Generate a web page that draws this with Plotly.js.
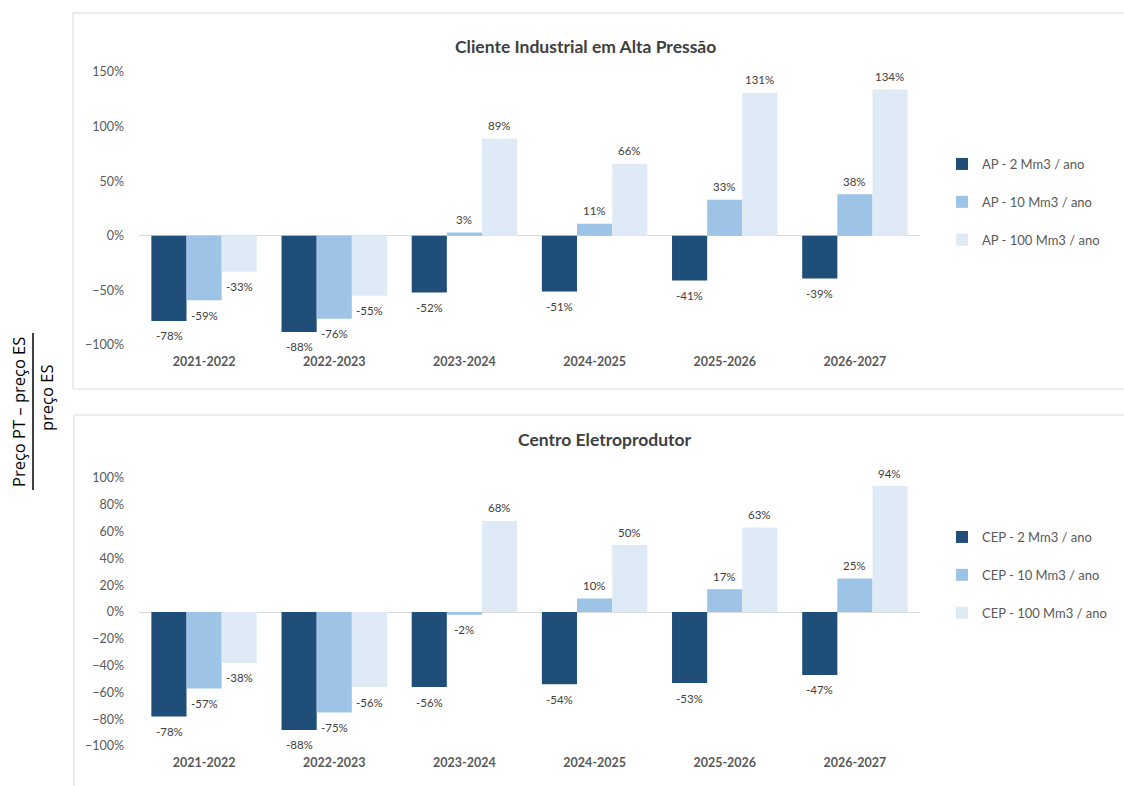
<!DOCTYPE html>
<html>
<head>
<meta charset="utf-8">
<script src="https://cdn.plot.ly/plotly-3.0.1.min.js"></script>
<style>html,body{margin:0;padding:0;background:#fff;}#chart{width:1124px;height:786px;}</style>
</head>
<body>
<div id="chart"></div>
<script>
const categories = ["2021-2022","2022-2023","2023-2024","2024-2025","2025-2026","2026-2027"];
const ap2   = [-0.78,-0.88,-0.52,-0.51,-0.41,-0.39];
const ap10  = [-0.59,-0.76, 0.03, 0.11, 0.33, 0.38];
const ap100 = [-0.33,-0.55, 0.89, 0.66, 1.31, 1.34];
const cep2   = [-0.78,-0.88,-0.56,-0.54,-0.53,-0.47];
const cep10  = [-0.57,-0.75,-0.02, 0.10, 0.17, 0.25];
const cep100 = [-0.38,-0.56, 0.68, 0.50, 0.63, 0.94];
const namesTop = ["AP - 2 Mm3 / ano","AP - 10 Mm3 / ano","AP - 100 Mm3 / ano"];
const namesBot = ["CEP - 2 Mm3 / ano","CEP - 10 Mm3 / ano","CEP - 100 Mm3 / ano"];
const colors = ["#1F4E79","#9DC3E6","#DEEBF7"];

const W = 1124, H = 786;
const px = x => x / W;
const py = y => 1 - y / H;
const FONT = "Lato, 'Open Sans', sans-serif";

function bar(y, name, color, xa, ya, leg, grp) {
  return {
    type: "bar", x: categories, y: y, name: name,
    marker: {color: color, line: {width: 0}},
    xaxis: xa, yaxis: ya, legend: leg, legendgroup: grp,
    hoverinfo: "x+y+name"
  };
}

const data = [
  bar(ap2, namesTop[0], colors[0], "x", "y", "legend", "a1"),
  bar(ap10, namesTop[1], colors[1], "x", "y", "legend", "a2"),
  bar(ap100, namesTop[2], colors[2], "x", "y", "legend", "a3"),
  bar(cep2, namesBot[0], colors[0], "x2", "y2", "legend2", "b1"),
  bar(cep10, namesBot[1], colors[1], "x2", "y2", "legend2", "b2"),
  bar(cep100, namesBot[2], colors[2], "x2", "y2", "legend2", "b3")
];

// data labels as annotations positioned through axis scales
const labelAnn = [];
function addLabels(series, xa, ya) {
  series.forEach((s, i) => {
    s.forEach((v, j) => {
      labelAnn.push({
        xref: xa, yref: ya, x: categories[j], y: v,
        text: Math.round(v * 100) + "%", showarrow: false,
        xshift: (i - 1) * 35, yshift: v >= 0 ? 13 : -15,
        xanchor: "center", yanchor: "middle",
        font: {size: 11.5, color: "#404040", family: FONT}
      });
    });
  });
}
addLabels([ap2, ap10, ap100], "x", "y");
addLabels([cep2, cep10, cep100], "x2", "y2");

const xCommon = {
  type: "category", domain: [px(139), px(920)],
  showgrid: false, showline: false, ticks: "", zeroline: false,
  tickfont: {size: 12.5, color: "#595959", family: FONT, weight: "bold"},
  ticklabelstandoff: 7, fixedrange: true
};
const yCommon = {
  tickformat: ".0%", showgrid: false, showline: false, ticks: "",
  zeroline: true, zerolinecolor: "#D9D9D9", zerolinewidth: 1,
  tickfont: {size: 12.5, color: "#595959", family: FONT},
  ticklabelstandoff: 14, fixedrange: true
};

const legCommon = {
  font: {size: 13, color: "#595959", family: FONT},
  bgcolor: "rgba(0,0,0,0)", tracegroupgap: 18, traceorder: "grouped",
  xanchor: "left", yanchor: "top", itemwidth: 30
};

const layout = {
  width: W, height: H,
  margin: {l: 0, r: 0, t: 0, b: 0},
  paper_bgcolor: "#ffffff", plot_bgcolor: "rgba(0,0,0,0)",
  font: {family: FONT, color: "#595959"},
  barmode: "group", bargap: 0.19, bargroupgap: 0,
  showlegend: true,
  xaxis: Object.assign({}, xCommon, {anchor: "y"}),
  yaxis: Object.assign({}, yCommon, {domain: [py(345), py(72)], range: [-1, 1.5], dtick: 0.5, anchor: "x"}),
  xaxis2: Object.assign({}, xCommon, {anchor: "y2"}),
  yaxis2: Object.assign({}, yCommon, {domain: [py(746), py(478)], range: [-1, 1], dtick: 0.2, anchor: "x2"}),
  legend: Object.assign({}, legCommon, {x: px(942), y: py(149)}),
  legend2: Object.assign({}, legCommon, {x: px(942), y: py(522)}),
  shapes: [
    {type: "rect", xref: "paper", yref: "paper", x0: px(73), x1: 1.05, y0: py(389), y1: py(13),
     line: {color: "#D9D9D9", width: 1}, fillcolor: "rgba(0,0,0,0)", layer: "below"},
    {type: "rect", xref: "paper", yref: "paper", x0: px(74), x1: 1.05, y0: -0.05, y1: py(415),
     line: {color: "#D9D9D9", width: 1}, fillcolor: "rgba(0,0,0,0)", layer: "below"},
    {type: "line", xref: "paper", yref: "paper", x0: px(33), x1: px(33), y0: py(490), y1: py(333),
     line: {color: "#000000", width: 1.5}}
  ],
  annotations: [
    {text: "<b>Cliente Industrial em Alta Pressão</b>", xref: "paper", yref: "paper",
     x: px(585), y: py(46), xanchor: "center", yanchor: "middle", showarrow: false,
     font: {size: 17.5, color: "#404040", family: FONT}},
    {text: "<b>Centro Eletroprodutor</b>", xref: "paper", yref: "paper",
     x: px(605), y: py(439), xanchor: "center", yanchor: "middle", showarrow: false,
     font: {size: 17.5, color: "#404040", family: FONT}},
    {text: "Preço PT – preço ES", xref: "paper", yref: "paper",
     x: px(18), y: py(412), xanchor: "center", yanchor: "middle", showarrow: false, textangle: -90,
     font: {size: 16.5, color: "#000000", family: "'Open Sans', sans-serif", weight: "normal"}},
    {text: "preço ES", xref: "paper", yref: "paper",
     x: px(46), y: py(398), xanchor: "center", yanchor: "middle", showarrow: false, textangle: -90,
     font: {size: 16.5, color: "#000000", family: "'Open Sans', sans-serif", weight: "normal"}}
  ].concat(labelAnn)
};

Plotly.newPlot("chart", data, layout, {displayModeBar: false, staticPlot: true});
</script>
</body>
</html>
